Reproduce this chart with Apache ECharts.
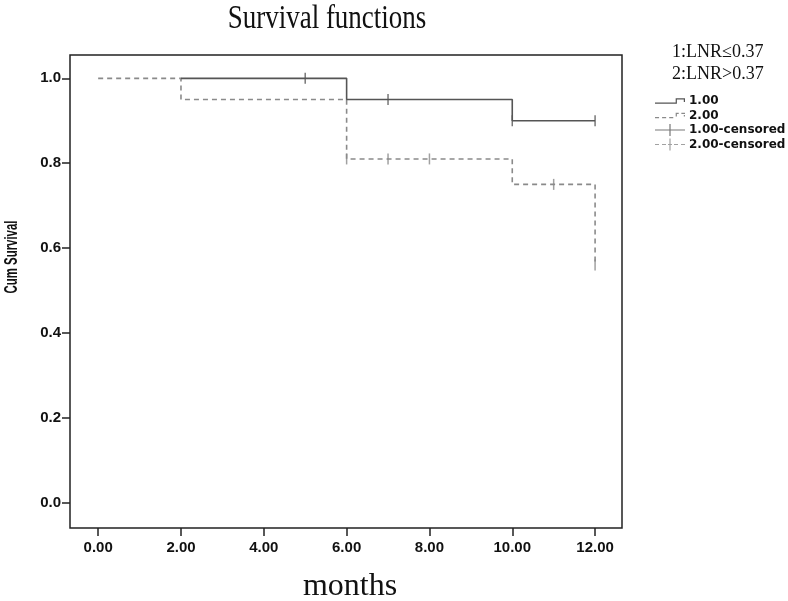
<!DOCTYPE html>
<html>
<head>
<meta charset="utf-8">
<script src="https://cdn.jsdelivr.net/npm/echarts@6/dist/echarts.min.js"></script>
<style>html,body{margin:0;padding:0;background:#fff}#c{width:788px;height:601px}</style>
</head>
<body>
<div id="c"></div>
<script>
// ---- data ----
var xTicks = [0, 2, 4, 6, 8, 10, 12];
var yTicks = [0, 0.2, 0.4, 0.6, 0.8, 1.0];
// group 1 (LNR<=0.37) step points
var times1 = [2, 6, 10, 12];
var surv1 = [1.0, 0.95, 0.90, 0.90];
// group 2 (LNR>0.37) step points
var times2 = [0, 2, 6, 10, 12];
var surv2 = [1.0, 0.95, 0.81, 0.75, 0.56];
// censored marks
var cens1Times = [5, 7, 10, 12];
var cens1Surv = [1.0, 0.95, 0.90, 0.90];
var cens2Times = [6, 7, 8, 11, 12];
var cens2Surv = [0.81, 0.81, 0.81, 0.75, 0.56];
var seriesNames = ['1.00', '2.00', '1.00-censored', '2.00-censored'];

function pairs(xs, ys) { return xs.map(function (x, i) { return [x, ys[i]]; }); }

var c1 = '#555555', c2 = '#8a8a8a';
var iconStep = 'path://M0,7.4h21v1.2h-21z M20.4,3.4h1.2v5.2h-1.2z M20.4,3.4h9v1.2h-9z M28.4,3.4h1.2v3.6h-1.2z';
var iconStepDash = 'path://M0,7.4h4v1.2h-4z M7,7.4h4v1.2h-4z M14,7.4h4v1.2h-4z M20.4,4.6h1.2v2.4h-1.2z M20.4,3.4h3v1.2h-3z M26,3.4h3.6v1.2h-3.6z M28.4,5.4h1.2v1.6h-1.2z';
var iconCens = 'path://M0,5.4h30v1.2h-30z M14.4,0h1.2v12h-1.2z';
var iconCensDash = 'path://M0,5.4h4v1.2h-4z M7,5.4h4v1.2h-4z M13,5.4h4v1.2h-4z M19,5.4h4v1.2h-4z M26,5.4h4v1.2h-4z M14.4,0h1.2v12h-1.2z';

var chart = echarts.init(document.getElementById('c'));
chart.setOption({
  animation: false,
  backgroundColor: '#fff',
  title: [{
    text: '1:LNR≤0.37\n2:LNR>0.37',
    left: 672, top: 41, padding: 0,
    textStyle: { fontFamily: 'Liberation Serif', fontSize: 18, fontWeight: 'normal', color: '#111', lineHeight: 22 }
  }],
  legend: {
    orient: 'vertical',
    left: 655, top: 95,
    itemWidth: 30, itemHeight: 12, itemGap: 2.5,
    padding: 0,
    textStyle: { fontFamily: 'DejaVu Sans', fontWeight: 'bold', fontSize: 12, color: '#111', padding: [0, 0, 0, -1] },
    data: [
      { name: seriesNames[0], icon: iconStep, itemStyle: { color: c1 } },
      { name: seriesNames[1], icon: iconStepDash, itemStyle: { color: c2 } },
      { name: seriesNames[2], icon: iconCens, itemStyle: { color: c1 } },
      { name: seriesNames[3], icon: iconCensDash, itemStyle: { color: c2 } }
    ]
  },
  grid: {
    left: 70, right: 166, top: 55, bottom: 73,
    containLabel: false, outerBoundsMode: 'none',
    show: true, borderColor: '#222', borderWidth: 1.5, backgroundColor: '#fff'
  },
  xAxis: {
    type: 'value', min: -0.68, max: 12.65, position: 'bottom',
    name: 'months', nameLocation: 'middle', nameGap: 43,
    nameTextStyle: { fontFamily: 'Liberation Serif', fontSize: 32, color: '#111', padding: [0, 0, 0, 8] },
    axisLine: { show: false, onZero: false },
    splitLine: { show: false },
    axisTick: { show: true, length: 8, customValues: xTicks, lineStyle: { color: '#222', width: 1.5 } },
    axisLabel: {
      customValues: xTicks, margin: 12,
      formatter: function (v) { return v.toFixed(2); },
      fontFamily: 'Liberation Sans', fontWeight: 'bold', fontSize: 15, color: '#111'
    }
  },
  yAxis: {
    type: 'value', min: -0.06, max: 1.055, position: 'left',
    axisLine: { show: false, onZero: false },
    splitLine: { show: false },
    axisTick: { show: true, length: 8, customValues: yTicks, lineStyle: { color: '#222', width: 1.5 } },
    axisLabel: {
      customValues: yTicks, margin: 9,
      formatter: function (v) { return v.toFixed(1); },
      fontFamily: 'Liberation Sans', fontWeight: 'bold', fontSize: 15, color: '#111'
    }
  },
  graphic: [{
    type: 'text', x: 327, y: 19, scaleY: 1.22,
    style: {
      text: 'Survival functions', fill: '#111',
      font: '27px "Liberation Serif"',
      textAlign: 'center', textVerticalAlign: 'middle'
    }
  }, {
    type: 'text', x: 12, y: 257, rotation: Math.PI / 2, scaleX: 0.6,
    style: {
      text: 'Cum Survival', fill: '#111',
      font: 'bold 19px "Liberation Sans"',
      textAlign: 'center', textVerticalAlign: 'middle'
    }
  }],
  series: [{
    name: seriesNames[0], type: 'line', step: 'end', symbol: 'none',
    data: pairs(times1, surv1),
    lineStyle: { color: c1, width: 1.6 }, itemStyle: { color: c1 }, z: 3
  }, {
    name: seriesNames[1], type: 'line', step: 'end', symbol: 'none',
    data: pairs(times2, surv2),
    lineStyle: { color: c2, width: 1.6, type: [5, 4] }, itemStyle: { color: c2 }, z: 2
  }, {
    name: seriesNames[2], type: 'scatter', symbol: 'rect', symbolSize: [1.5, 11],
    data: pairs(cens1Times, cens1Surv),
    itemStyle: { color: c1 }, z: 4
  }, {
    name: seriesNames[3], type: 'scatter', symbol: 'rect', symbolSize: [1.5, 11],
    data: pairs(cens2Times, cens2Surv),
    itemStyle: { color: c2 }, z: 4
  }]
});
</script>
</body>
</html>
